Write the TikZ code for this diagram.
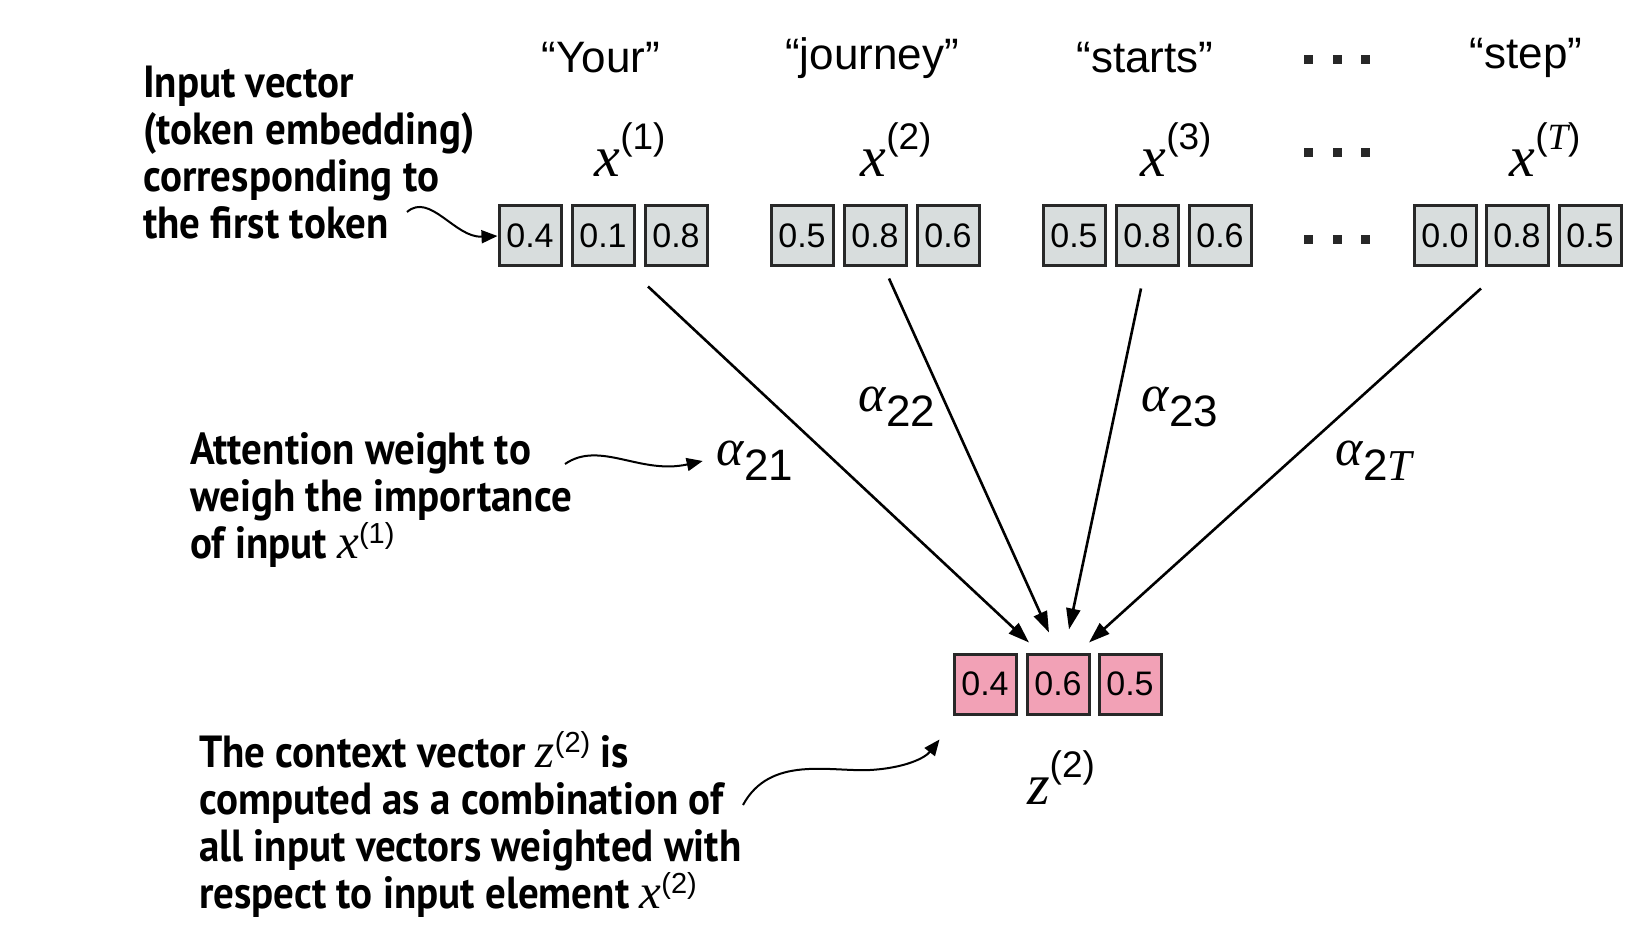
\documentclass[tikz,border=0pt]{standalone}
\usepackage{fontspec}
\setmainfont{Liberation Sans}
\newfontfamily\notefont{PT Sans}[FakeStretch=0.91]
\newfontfamily\serifit{Liberation Serif}
\usetikzlibrary{arrows.meta}

\definecolor{cellgray}{RGB}{216,221,221}
\definecolor{cellpink}{RGB}{242,161,182}
\definecolor{cellline}{RGB}{40,40,40}

% x^{(n)} for the labels and for the notes
\newcommand{\vx}[2]{{\serifit\itshape\fontsize{58}{58}\selectfont #1}\raisebox{27pt}{\fontsize{37}{37}\selectfont (#2)}}
\newcommand{\nvx}[2]{{\serifit\mdseries\itshape\fontsize{49}{47}\selectfont #1}\raisebox{15pt}[0pt][0pt]{\fontsize{29}{29}\selectfont\normalfont (#2)}}
% alpha_{2n}
\newcommand{\alw}[1]{{\serifit\itshape α}\raisebox{-15pt}{\fontsize{44}{44}\selectfont #1}}

\begin{document}
\begin{tikzpicture}[x=1pt,y=-1pt,
    cell/.style={draw=cellline, line width=3pt, minimum width=62pt, minimum height=60pt, inner sep=0pt, font=\fontsize{34}{34}\selectfont},
    incell/.style={cell, fill=cellgray},
    outcell/.style={cell, fill=cellpink},
    attn/.style={line width=2.6pt, -{Triangle[length=21pt,width=14pt]}},
    note/.style={line width=2pt, -{Triangle[length=16pt,width=13pt]}},
    notetext/.style={align=left, inner sep=0pt, font=\notefont\bfseries\fontsize{45}{47}\selectfont},
    token/.style={inner sep=0pt, font=\fontsize{44}{44}\selectfont},
    lbl/.style={inner sep=0pt, font=\fontsize{52}{52}\selectfont}]
\useasboundingbox (0,0) rectangle (1642,928);

    \node [incell] (a1) at (530,236) {0.4};
    \node [incell] (a2) at (603,236) {0.1};
    \node [incell] (a3) at (676,236) {0.8};
    \node [incell] (b1) at (802,236) {0.5};
    \node [incell] (b2) at (875,236) {0.8};
    \node [incell] (b3) at (948,236) {0.6};
    \node [incell] (c1) at (1074,236) {0.5};
    \node [incell] (c2) at (1147,236) {0.8};
    \node [incell] (c3) at (1220,236) {0.6};
    \node [incell] (d1) at (1445,236) {0.0};
    \node [incell] (d2) at (1517,236) {0.8};
    \node [incell] (d3) at (1590,236) {0.5};

    \node [outcell] (z1) at (985,684) {0.4};
    \node [outcell] (z2) at (1058,684) {0.6};
    \node [outcell] (z3) at (1130,684) {0.5};

    \node [token] (w1) at (601,58) {“Your”};
    \node [token] (w2) at (872,58) {“journey”};
    \node [token] (w3) at (1145,58) {“starts”};
    \node [token] (w4) at (1526,58) {“step”};

    \node [lbl] (x1) at (630,150) {\vx{x}{1}};
    \node [lbl] (x2) at (896,150) {\vx{x}{2}};
    \node [lbl] (x3) at (1176,150) {\vx{x}{3}};
    \node [lbl] (x4) at (1545,150) {\vx{x}{{\serifit\itshape T}}};
    \node [lbl] (zz) at (1061,778) {\vx{z}{2}};

    \fill [cellline] (1304,55) rectangle (1313,64);
    \fill [cellline] (1333,55) rectangle (1342,64);
    \fill [cellline] (1361,55) rectangle (1370,64);

    \fill [cellline] (1304,148) rectangle (1313,157);
    \fill [cellline] (1333,148) rectangle (1342,157);
    \fill [cellline] (1361,148) rectangle (1370,157);

    \fill [cellline] (1304,235) rectangle (1313,244);
    \fill [cellline] (1333,235) rectangle (1342,244);
    \fill [cellline] (1361,235) rectangle (1370,244);

    \node [lbl] (al21) at (755,461) {\alw{21}};
    \node [lbl] (al22) at (897,407) {\alw{22}};
    \node [lbl] (al23) at (1180,407) {\alw{23}};
    \node [lbl] (al2T) at (1374,461) {\alw{2{\serifit\itshape T}}};

    \draw [attn] ([xshift=-28pt,yshift=-19pt]a3.south) -- ([xshift=-29pt,yshift=10pt]z2.north);
    \draw [attn] ([xshift=14pt,yshift=-11pt]b2.south) -- ([xshift=-9pt,yshift=20pt]z2.north);
    \draw [attn] ([xshift=-6pt,yshift=-21pt]c2.south) -- ([xshift=11pt,yshift=23pt]z2.north);
    \draw [attn] ([xshift=-36pt,yshift=-21pt]d2.south) -- ([xshift=31pt,yshift=10pt]z2.north);

    \node [notetext, anchor=west] (inp) at (143,153) {Input vector\\(token embedding)\\corresponding to\\the first token};
    \node [notetext, anchor=west] (wgt) at (190,500) {Attention weight to\\weigh the importance\\of input \nvx{x}{1}};
    \node [notetext, anchor=west] (ctx) at (199,826) {The context vector \nvx{z}{2} is\\computed as a combination of\\all input vectors weighted with\\respect to input element \nvx{x}{2}};

    \coordinate (n1) at (407,212);
    \coordinate (n2) at (565,464);
    \coordinate (n3) at (743,805);
    \draw [note] (n1) .. controls (430,192) and (455,238) .. (a1.west);
    \draw [note] (n2) .. controls (600,440) and (640,475) .. ([xshift=-14pt]al21.west);
    \draw [note] (n3) .. controls (770,755) and (830,772) .. (870,770) .. controls (905,768) and (925,758) .. ([xshift=-13pt,yshift=-24pt]z1.south west);

\end{tikzpicture}
\end{document}
